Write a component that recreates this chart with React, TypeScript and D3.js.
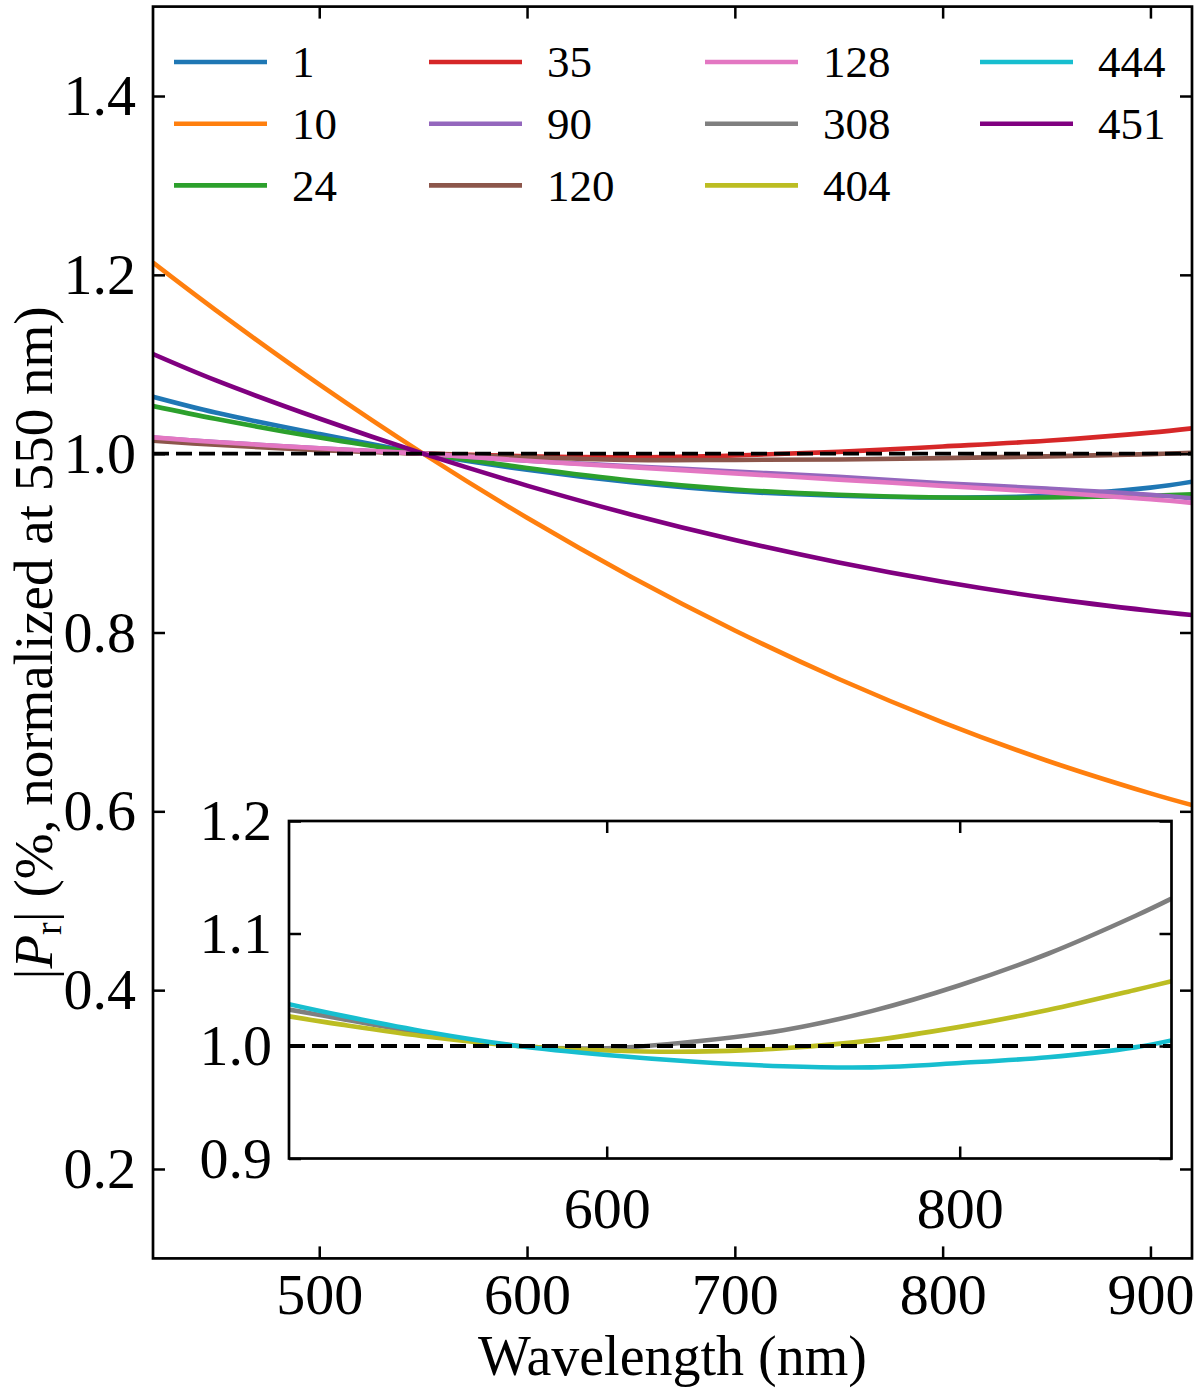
import {
  axisBottom,
  axisLeft,
  axisRight,
  axisTop,
  curveCatmullRom,
  line,
  scaleLinear,
  select,
} from "d3";
import { useEffect, useRef } from "react";

// wavelength grid (nm) shared by every curve
const wavelengths = [420, 450, 500, 550, 600, 650, 700, 750, 800, 850, 900, 920];

// |Pr| normalized at 550 nm
const pr1 = [1.0636, 1.046, 1.022, 1.0, 0.982, 0.968, 0.958, 0.953, 0.951, 0.953, 0.962, 0.9686];
const pr10 = [1.2136, 1.1608, 1.0775, 1.0, 0.9283, 0.8624, 0.8023, 0.748, 0.6996, 0.6569, 0.6201, 0.607];
const pr24 = [1.0532, 1.039, 1.018, 1.0, 0.984, 0.97, 0.96, 0.954, 0.951, 0.951, 0.953, 0.9545];
const pr35 = [1.017, 1.012, 1.005, 1.0, 0.997, 0.996, 0.998, 1.002, 1.008, 1.0145, 1.0235, 1.0283];
const pr90 = [1.018, 1.013, 1.006, 1.0, 0.992, 0.986, 0.98, 0.974, 0.967, 0.961, 0.954, 0.95];
const pr120 = [1.0144, 1.01, 1.004, 1.0, 0.996, 0.993, 0.993, 0.9935, 0.995, 0.997, 0.9995, 1.001];
const pr128 = [1.0182, 1.013, 1.006, 1.0, 0.992, 0.985, 0.978, 0.971, 0.964, 0.957, 0.949, 0.945];
const pr308 = [1.0324, 1.024, 1.0105, 1.0, 0.998, 1.004, 1.014, 1.031, 1.054, 1.082, 1.116, 1.131];
const pr404 = [1.0264, 1.019, 1.008, 1.0, 0.996, 0.995, 0.998, 1.005, 1.017, 1.032, 1.05, 1.0576];
const pr444 = [1.0371, 1.027, 1.012, 1.0, 0.992, 0.986, 0.982, 0.981, 0.9849, 0.99, 0.999, 1.005];
const pr451 = [1.1114, 1.0822, 1.0393, 1.0, 0.9643, 0.932, 0.9034, 0.8783, 0.8567, 0.8387, 0.8243, 0.8195];

const mainTicksX = [500, 600, 700, 800, 900];
const mainTicksY = [0.2, 0.4, 0.6, 0.8, 1.0, 1.2, 1.4];
const insetTicksX = [600, 800];
const insetTicksY = [0.9, 1.0, 1.1, 1.2];

type Series = { label: string; color: string; values: number[] };

const mainSeries: Series[] = [
  { label: "1", color: "#1f77b4", values: pr1 },
  { label: "10", color: "#ff7f0e", values: pr10 },
  { label: "24", color: "#2ca02c", values: pr24 },
  { label: "35", color: "#d62728", values: pr35 },
  { label: "90", color: "#9467bd", values: pr90 },
  { label: "120", color: "#8c564b", values: pr120 },
  { label: "128", color: "#e377c2", values: pr128 },
  { label: "451", color: "#800080", values: pr451 },
];

const insetSeries: Series[] = [
  { label: "308", color: "#7f7f7f", values: pr308 },
  { label: "404", color: "#bcbd22", values: pr404 },
  { label: "444", color: "#17becf", values: pr444 },
];

const legendOrder = ["1", "10", "24", "35", "90", "120", "128", "308", "404", "444", "451"];

const FONT = "Liberation Serif";
const W = 1200;
const H = 1395;

export default function App() {
  const svgRef = useRef<SVGSVGElement | null>(null);

  useEffect(() => {
    if (!svgRef.current) return;
    const svg = select(svgRef.current);
    svg.selectAll("*").remove();

    const x = scaleLinear().domain([420, 920]).range([153, 1192]);
    const y = scaleLinear().domain([0.1, 1.5]).range([1258.4, 6.6]);
    const xi = scaleLinear().domain([420, 920]).range([289, 1171.5]);
    const yi = scaleLinear().domain([0.9, 1.2]).range([1158.5, 821]);

    const defs = svg.append("defs");
    defs
      .append("clipPath")
      .attr("id", "clip-main")
      .append("rect")
      .attr("x", x(420))
      .attr("y", y(1.5))
      .attr("width", x(920) - x(420))
      .attr("height", y(0.1) - y(1.5));
    defs
      .append("clipPath")
      .attr("id", "clip-inset")
      .append("rect")
      .attr("x", xi(420))
      .attr("y", yi(1.2))
      .attr("width", xi(920) - xi(420))
      .attr("height", yi(0.9) - yi(1.2));

    const styleAxis = (g: any, size: number) => {
      g.attr("font-family", FONT).attr("font-size", size);
      g.select(".domain").remove();
      g.selectAll("line").attr("stroke", "#000").attr("stroke-width", 2.5);
      g.selectAll("text").attr("fill", "#000");
    };

    // main curves
    const mainLine = line<number>()
      .x((_, i) => x(wavelengths[i]))
      .y((d) => y(d))
      .curve(curveCatmullRom.alpha(0.5));

    const curves = svg.append("g").attr("clip-path", "url(#clip-main)");
    curves
      .selectAll("path")
      .data(mainSeries)
      .join("path")
      .attr("d", (s) => mainLine(s.values))
      .attr("fill", "none")
      .attr("stroke", (s) => s.color)
      .attr("stroke-width", 4.6);

    curves
      .append("line")
      .attr("x1", x(420))
      .attr("x2", x(920))
      .attr("y1", y(1))
      .attr("y2", y(1))
      .attr("stroke", "#000")
      .attr("stroke-width", 3.8)
      .attr("stroke-dasharray", "16 7");

    // main axes
    svg
      .append("g")
      .attr("transform", `translate(0,${y(0.1)})`)
      .call(axisBottom(x).tickValues(mainTicksX).tickSizeInner(-12).tickSizeOuter(0).tickPadding(14))
      .call((g) => styleAxis(g, 58));
    svg
      .append("g")
      .attr("transform", `translate(0,${y(1.5)})`)
      .call(axisTop(x).tickValues(mainTicksX).tickSizeInner(-12).tickSizeOuter(0).tickFormat(() => ""))
      .call((g) => styleAxis(g, 58));
    svg
      .append("g")
      .attr("transform", `translate(${x(420)},0)`)
      .call(
        axisLeft(y)
          .tickValues(mainTicksY)
          .tickSizeInner(-12)
          .tickSizeOuter(0)
          .tickPadding(17)
          .tickFormat((d) => (d as number).toFixed(1)),
      )
      .call((g) => styleAxis(g, 58));
    svg
      .append("g")
      .attr("transform", `translate(${x(920)},0)`)
      .call(axisRight(y).tickValues(mainTicksY).tickSizeInner(-12).tickSizeOuter(0).tickFormat(() => ""))
      .call((g) => styleAxis(g, 58));

    svg
      .append("rect")
      .attr("x", x(420))
      .attr("y", y(1.5))
      .attr("width", x(920) - x(420))
      .attr("height", y(0.1) - y(1.5))
      .attr("fill", "none")
      .attr("stroke", "#000")
      .attr("stroke-width", 2.7);

    // legend, 4 columns, filled column by column
    const colorOf = new Map([...mainSeries, ...insetSeries].map((s) => [s.label, s.color]));
    const colX = [174, 429, 705, 980];
    const rowY = [62, 123.7, 185.4];
    const legend = svg.append("g").attr("font-family", FONT).attr("font-size", 45);
    legendOrder.forEach((label, i) => {
      const cx = colX[Math.floor(i / 3)];
      const cy = rowY[i % 3];
      legend
        .append("line")
        .attr("x1", cx)
        .attr("x2", cx + 93)
        .attr("y1", cy)
        .attr("y2", cy)
        .attr("stroke", colorOf.get(label) ?? "#000")
        .attr("stroke-width", 4.6);
      legend
        .append("text")
        .attr("x", cx + 118)
        .attr("y", cy)
        .attr("dy", "0.34em")
        .text(label);
    });

    // axis labels
    svg
      .append("text")
      .attr("x", (x(420) + x(920)) / 2)
      .attr("y", 1375)
      .attr("text-anchor", "middle")
      .attr("font-family", FONT)
      .attr("font-size", 56)
      .text("Wavelength (nm)");

    const yLabel = svg
      .append("text")
      .attr("transform", `translate(52,643) rotate(-90)`)
      .attr("text-anchor", "middle")
      .attr("font-family", FONT)
      .attr("font-size", 55);
    yLabel.append("tspan").text("|");
    yLabel.append("tspan").attr("font-style", "italic").text("P");
    yLabel.append("tspan").attr("font-size", 38).attr("dy", 9).text("r");
    yLabel.append("tspan").attr("dy", -9).text("| (%, normalized at 550 nm)");

    // inset
    const inset = svg.append("g");
    inset
      .append("rect")
      .attr("x", xi(420))
      .attr("y", yi(1.2))
      .attr("width", xi(920) - xi(420))
      .attr("height", yi(0.9) - yi(1.2))
      .attr("fill", "#fff");

    const insetLine = line<number>()
      .x((_, i) => xi(wavelengths[i]))
      .y((d) => yi(d))
      .curve(curveCatmullRom.alpha(0.5));

    const insetCurves = inset.append("g").attr("clip-path", "url(#clip-inset)");
    insetCurves
      .selectAll("path")
      .data(insetSeries)
      .join("path")
      .attr("d", (s) => insetLine(s.values))
      .attr("fill", "none")
      .attr("stroke", (s) => s.color)
      .attr("stroke-width", 4.6);
    insetCurves
      .append("line")
      .attr("x1", xi(420))
      .attr("x2", xi(920))
      .attr("y1", yi(1))
      .attr("y2", yi(1))
      .attr("stroke", "#000")
      .attr("stroke-width", 3.8)
      .attr("stroke-dasharray", "16 7");

    inset
      .append("g")
      .attr("transform", `translate(0,${yi(0.9)})`)
      .call(axisBottom(xi).tickValues(insetTicksX).tickSizeInner(-12).tickSizeOuter(0).tickPadding(28))
      .call((g) => styleAxis(g, 58));
    inset
      .append("g")
      .attr("transform", `translate(0,${yi(1.2)})`)
      .call(axisTop(xi).tickValues(insetTicksX).tickSizeInner(-12).tickSizeOuter(0).tickFormat(() => ""))
      .call((g) => styleAxis(g, 58));
    inset
      .append("g")
      .attr("transform", `translate(${xi(420)},0)`)
      .call(
        axisLeft(yi)
          .tickValues(insetTicksY)
          .tickSizeInner(-12)
          .tickSizeOuter(0)
          .tickPadding(17)
          .tickFormat((d) => (d as number).toFixed(1)),
      )
      .call((g) => styleAxis(g, 58));
    inset
      .append("g")
      .attr("transform", `translate(${xi(920)},0)`)
      .call(axisRight(yi).tickValues(insetTicksY).tickSizeInner(-12).tickSizeOuter(0).tickFormat(() => ""))
      .call((g) => styleAxis(g, 58));

    inset
      .append("rect")
      .attr("x", xi(420))
      .attr("y", yi(1.2))
      .attr("width", xi(920) - xi(420))
      .attr("height", yi(0.9) - yi(1.2))
      .attr("fill", "none")
      .attr("stroke", "#000")
      .attr("stroke-width", 2.7);
  }, []);

  return (
    <svg
      ref={svgRef}
      width={W}
      height={H}
      viewBox={`0 0 ${W} ${H}`}
      style={{ position: "absolute", left: 0, top: 0, background: "#fff" }}
    />
  );
}
